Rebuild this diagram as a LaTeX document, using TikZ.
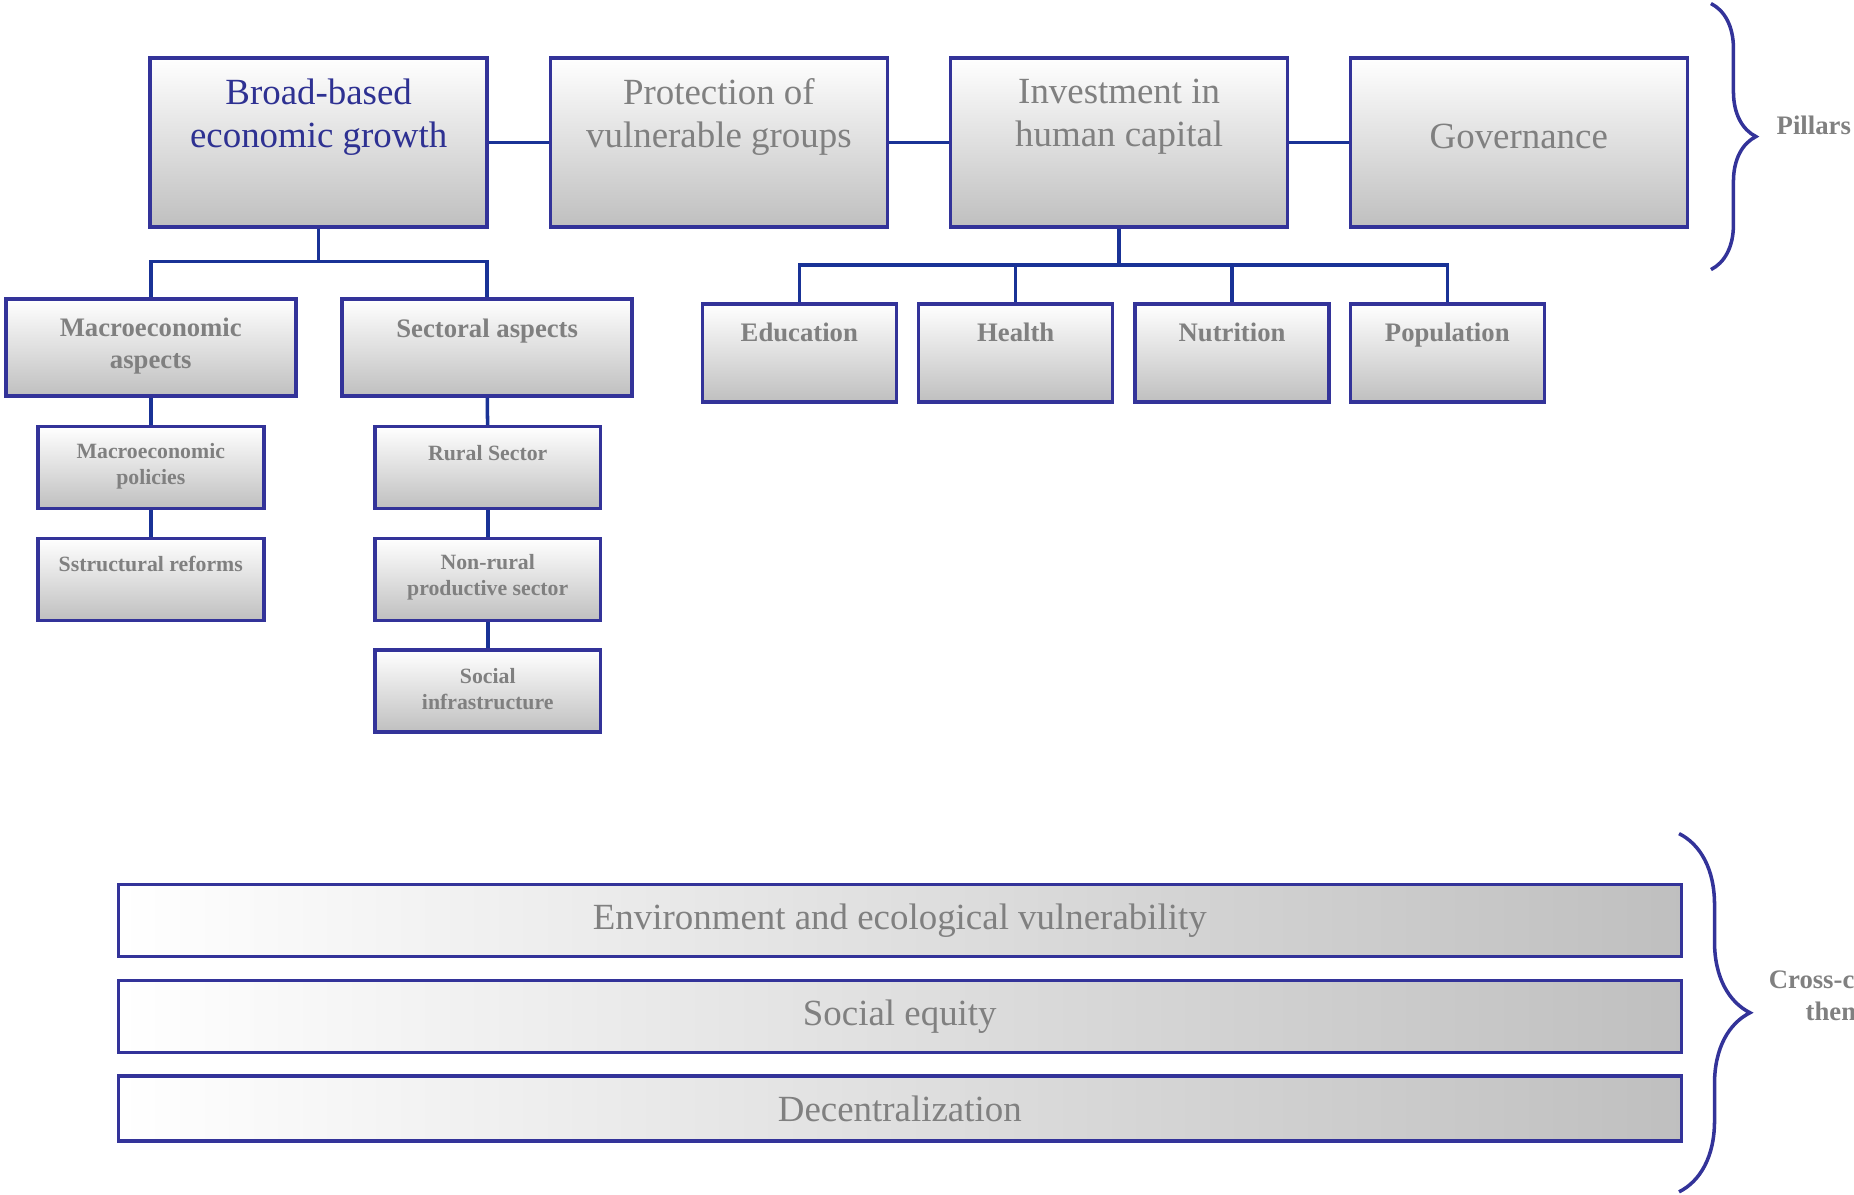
\documentclass[tikz,border=0pt]{standalone}
\usepackage{fontspec}
\setmainfont{Liberation Serif}
\usetikzlibrary{calc,positioning,decorations.pathreplacing}
\definecolor{boxblue}{RGB}{51,51,153}
\definecolor{linkblue}{RGB}{25,50,150}
\definecolor{txtgray}{RGB}{128,128,128}
\definecolor{titleblue}{RGB}{46,49,146}
\tikzset{
    pillar/.style={
    rectangle,draw=boxblue,line width=1pt,top color=white,bottom color=gray!50,
    minimum width=3.37cm,minimum height=1.69cm
    },
    aspect/.style={
    rectangle,draw=boxblue,line width=1pt,top color=white,bottom color=gray!50,
    minimum width=2.9cm,minimum height=0.97cm
    },
    subcp/.style={
    rectangle,draw=boxblue,line width=1pt,top color=white,bottom color=gray!50,
    minimum width=2.26cm,minimum height=0.82cm
    },
    capital/.style={
    rectangle,draw=boxblue,line width=1pt,top color=white,bottom color=gray!50,
    minimum width=1.94cm,minimum height=0.98cm
    },
    theme/.style={
    rectangle,draw=boxblue,line width=1pt,left color=white,right color=gray!50,
    minimum width=15.63cm,minimum height=#1,
    font=\fontsize{10.5}{12.2}\selectfont,text=txtgray
    },
    bigtext/.style={font=\fontsize{10.5}{12.2}\selectfont,text=txtgray,align=center},
    midtext/.style={font=\fontsize{7.6}{9.1}\selectfont\bfseries,text=txtgray,align=center},
    captext/.style={midtext,text height=0.7em,text depth=0.22em},
    smalltext/.style={font=\fontsize{6.2}{7.4}\selectfont\bfseries,text=txtgray,align=center},
    link/.style={draw=linkblue,line width=1pt},
    curly/.style={decorate,decoration={brace,amplitude=#1},draw=boxblue,line width=1pt},
}
\begin{document}
\begin{tikzpicture}[x=0.011824cm, y=-0.011824cm]
   \useasboundingbox (0,0) rectangle (1568,1010);
   % pillars
   \node[pillar] (growth) at (269.5,120.5) {};
   \node[pillar] (protect) at (608,120.5) {};
   \node[pillar] (human) at (946.5,120.5) {};
   \node[pillar] (govern) at (1284.5,120.5) {};
   \node[bigtext,text=titleblue] (growthtxt) at (269.5,99) {Broad-based\\economic growth};
   \node[bigtext] (protecttxt) at (608,99) {Protection of\\vulnerable groups};
   \node[bigtext] (humantxt) at (946.5,99) {Investment in\\human capital};
   \node[bigtext] (governtxt) at (1284.5,115) {Governance};

   \path[link]
     (growth) edge (protect)
     (protect) edge (human)
     (human) edge (govern);

   % growth branch
   \node[aspect] (macro) at (127.5,294) {};
   \node[aspect] (sector) at (412,294) {};
   \node[midtext] (macrotxt) at (127.5,292.5) {Macroeconomic\\aspects};
   \node[midtext] (sectortxt) at (412,280) {Sectoral aspects};
   \coordinate (gsplit) at (269.5,221);
   \draw[link] (growth.south) -- (gsplit) -| (macro.north);
   \draw[link] (gsplit) -| (sector.north);

   \node[subcp] (policy) at (127.5,395.5) {};
   \node[subcp] (reform) at (127.5,490) {};
   \node[subcp] (rural) at (412.5,395.5) {};
   \node[subcp] (nonrural) at (412.5,490) {};
   \node[subcp] (infra) at (412.5,584.5) {};
   \node[smalltext] (policytxt) at (127.5,394) {Macroeconomic\\policies};
   \node[smalltext] (reformtxt) at (127.5,477) {Sstructural reforms};
   \node[smalltext] (ruraltxt) at (412.5,383) {Rural Sector};
   \node[smalltext] (nonruraltxt) at (412.5,488) {Non-rural\\productive sector};
   \node[smalltext] (infratxt) at (412.5,583) {Social\\infrastructure};

   \path[link]
     (macro) edge (policy)
     (policy) edge (reform)
     (sector) edge (rural)
     (rural) edge (nonrural)
     (nonrural) edge (infra);

   % human capital branch
   \node[capital] (educ) at (676,298.5) {};
   \node[capital] (health) at (859,298.5) {};
   \node[capital] (nutr) at (1042,298.5) {};
   \node[capital] (popu) at (1224,298.5) {};
   \node[captext] (eductxt) at (676,282) {Education};
   \node[captext] (healthtxt) at (859,282) {Health};
   \node[captext] (nutrtxt) at (1042,282) {Nutrition};
   \node[captext] (poputxt) at (1224,282) {Population};
   \coordinate (hsplit) at (946.5,224);
   \draw[link] (human.south) -- (hsplit);
   \foreach \c in {educ,health,nutr,popu}
     \draw[link] (hsplit) -| (\c.north);

   \coordinate (ptop) at (1447,3);
   \coordinate (pbot) at (1447,228);
   \draw[curly=0.45cm] (ptop) -- (pbot);
   \node[midtext] (pillarlbl) at (1534,106) {Pillars};

   % cross-cutting themes
   \node[theme=0.72cm] (envir) at (761,778.5) {Environment and ecological vulnerability};
   \node[theme=0.72cm] (equity) at (761,859.5) {Social equity};
   \node[theme=0.65cm] (decent) at (761,937.5) {Decentralization};

   \coordinate (ctop) at (1420,705);
   \coordinate (cbot) at (1420,1008);
   \draw[curly=0.71cm] (ctop) -- (cbot);
   \node[midtext] (crosslbl) at (1561,842) {Cross-cutting\\themes};
\end{tikzpicture}
\end{document}
